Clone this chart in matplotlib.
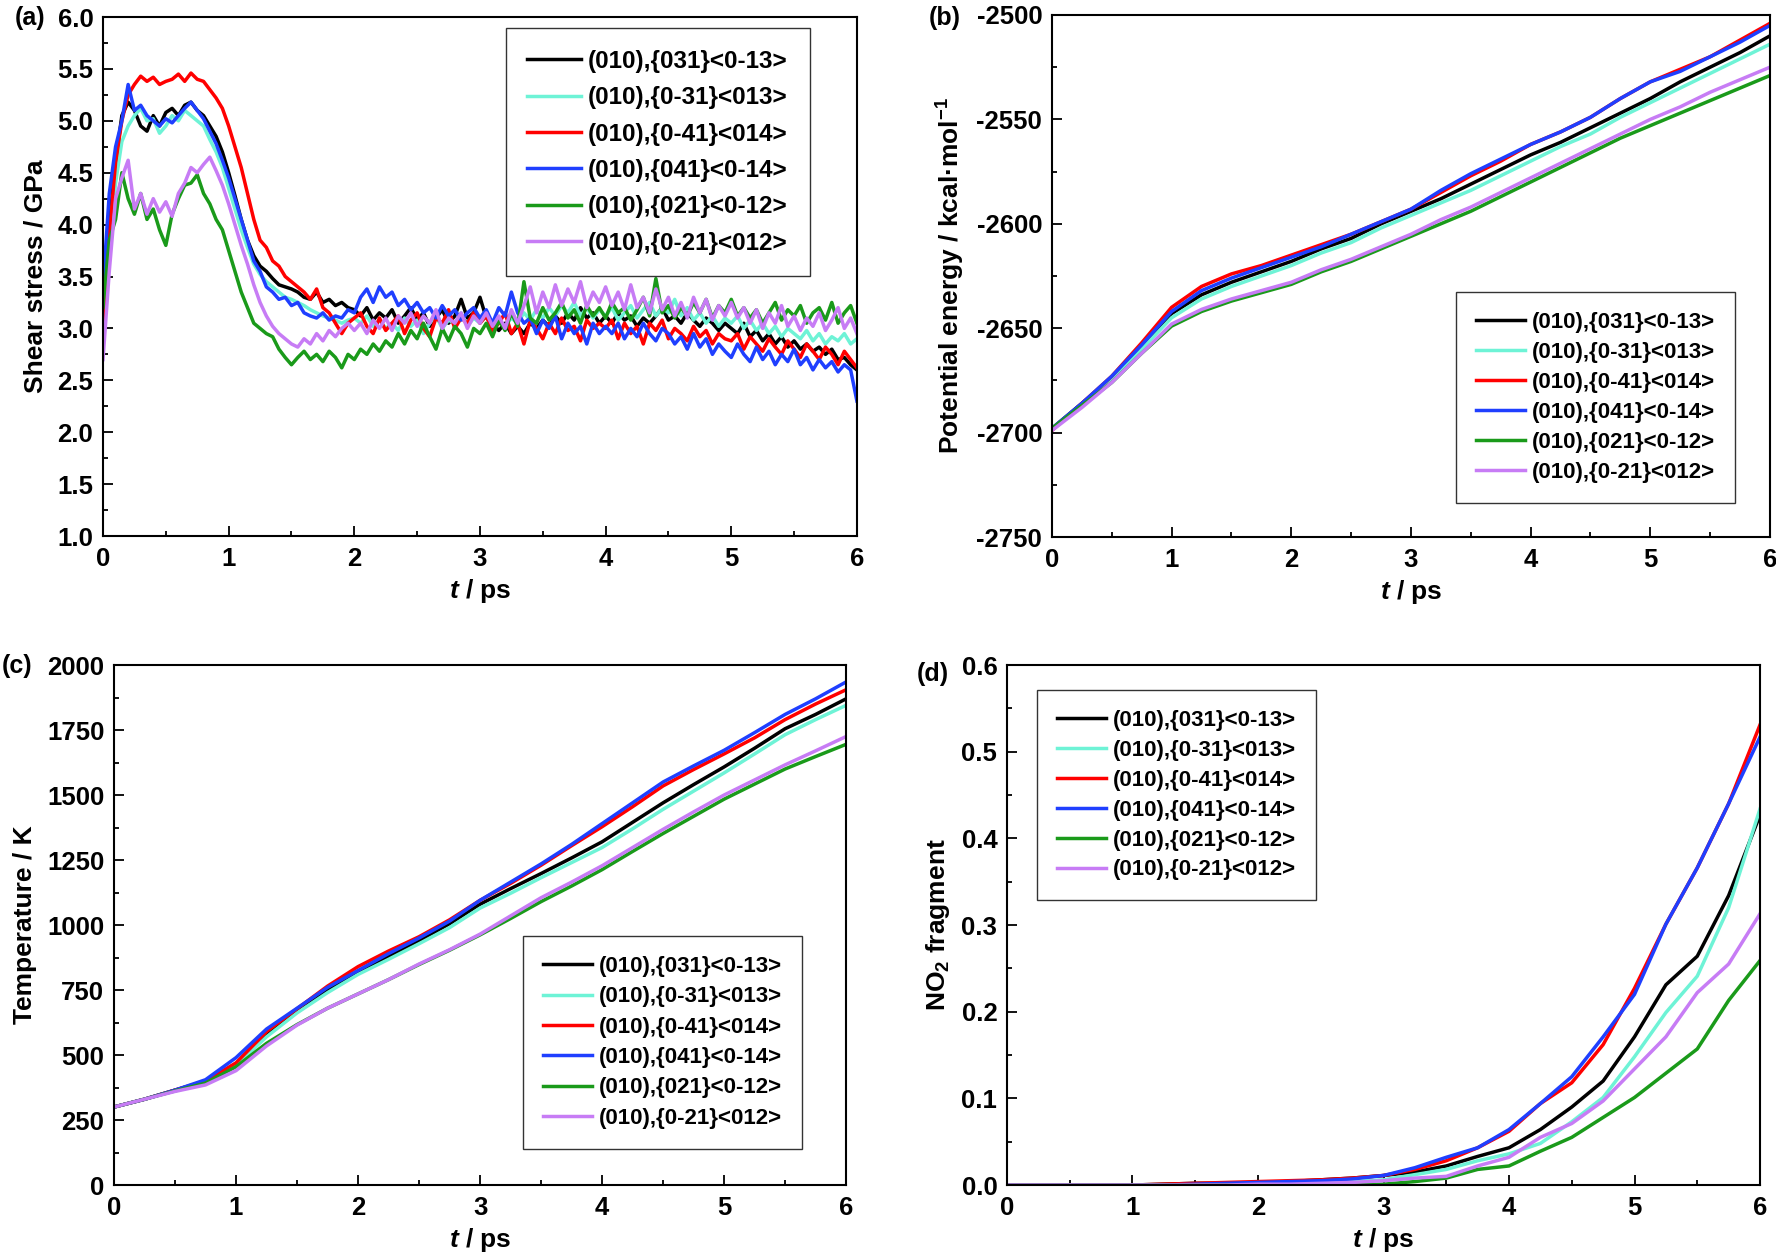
import numpy as np
import matplotlib
matplotlib.use('Agg')
import matplotlib.pyplot as plt
from matplotlib.ticker import MultipleLocator, FormatStrFormatter

plt.rcParams['font.family'] = ['Liberation Sans', 'DejaVu Sans']
plt.rcParams['font.weight'] = 'bold'
plt.rcParams['axes.labelweight'] = 'bold'
plt.rcParams['mathtext.fontset'] = 'custom'
plt.rcParams['mathtext.rm'] = 'Liberation Sans:bold'
plt.rcParams['mathtext.it'] = 'Liberation Sans:italic:bold'
plt.rcParams['mathtext.bf'] = 'Liberation Sans:bold'

# series names and colours (legend order = drawing order)
labels = ['(010),{031}<0-13>', '(010),{0-31}<013>', '(010),{0-41}<014>',
          '(010),{041}<0-14>', '(010),{021}<0-12>', '(010),{0-21}<012>']
colors = ['#000000', '#6ef3d6', '#ff0000', '#1f3fff', '#1a9a1a', '#c77cf5']

# (a) shear stress / GPa, sampled every 0.05 ps
dt_stress = 0.05
stress_031 = [3.0, 4.0, 4.6, 5.05, 5.18, 5.10, 4.95, 4.90, 5.05, 4.95, 5.08, 5.12, 5.05, 5.15, 5.18, 5.10, 5.05, 4.95, 4.85, 4.70,
              4.50, 4.28, 4.05, 3.85, 3.70, 3.60, 3.55, 3.48, 3.42, 3.40, 3.38, 3.35, 3.30, 3.28, 3.35, 3.25, 3.28, 3.22, 3.25, 3.20,
              3.18, 3.12, 3.20, 3.08, 3.15, 3.10, 3.18, 3.05, 3.12, 3.20, 3.08, 3.15, 3.02, 3.10, 3.18, 3.05, 3.12, 3.28, 3.10, 3.15,
              3.30, 3.10, 3.05, 2.98, 3.05, 2.95, 3.02, 2.95, 3.05, 3.00, 3.08, 3.02, 3.12, 3.05, 3.15, 3.08, 3.20, 3.10, 3.15, 3.05,
              3.12, 3.05, 3.15, 3.08, 3.12, 3.02, 3.10, 3.05, 3.12, 3.20, 3.08, 3.12, 3.05, 3.15, 3.08, 3.02, 3.10, 3.05, 2.98, 3.05,
              3.00, 2.95, 3.05, 2.92, 2.98, 2.88, 2.95, 2.85, 2.92, 2.82, 2.88, 2.80, 2.85, 2.78, 2.82, 2.75, 2.80, 2.70, 2.72, 2.65,
              2.60]
stress_0m31 = [2.9, 3.8, 4.4, 4.8, 4.95, 5.05, 5.12, 5.00, 5.02, 4.88, 4.95, 5.05, 5.00, 5.10, 5.05, 5.00, 4.95, 4.82, 4.70, 4.55,
               4.35, 4.15, 3.95, 3.78, 3.62, 3.52, 3.45, 3.40, 3.35, 3.30, 3.28, 3.25, 3.22, 3.18, 3.15, 3.12, 3.10, 3.08, 3.05, 3.08,
               3.10, 3.05, 3.12, 3.02, 3.08, 3.00, 3.05, 2.98, 3.10, 3.02, 3.08, 2.95, 3.05, 3.12, 3.00, 3.08, 3.05, 3.15, 3.02, 3.10,
               3.05, 3.12, 3.00, 3.08, 3.02, 3.10, 3.05, 3.15, 3.08, 3.18, 3.10, 3.20, 3.12, 3.22, 3.15, 3.25, 3.12, 3.20, 3.10, 3.18,
               3.12, 3.20, 3.08, 3.15, 3.22, 3.10, 3.18, 3.25, 3.12, 3.20, 3.15, 3.28, 3.12, 3.20, 3.08, 3.15, 3.05, 3.12, 3.02, 3.10,
               3.05, 3.12, 3.00, 3.08, 2.98, 3.05, 2.95, 3.02, 2.92, 3.00, 2.95, 2.90, 2.98, 2.88, 2.95, 2.85, 2.92, 2.88, 2.95, 2.85,
               2.90]
stress_0m41 = [2.9, 3.9, 4.6, 5.0, 5.25, 5.35, 5.43, 5.38, 5.42, 5.35, 5.38, 5.40, 5.45, 5.38, 5.46, 5.40, 5.38, 5.30, 5.22, 5.12,
               4.95, 4.75, 4.55, 4.30, 4.05, 3.85, 3.78, 3.65, 3.60, 3.50, 3.45, 3.40, 3.35, 3.28, 3.38, 3.20, 3.15, 3.05, 2.95, 3.05,
               3.10, 3.15, 3.02, 2.95, 3.10, 2.98, 3.05, 3.12, 2.95, 3.08, 3.15, 3.00, 2.92, 3.10, 3.05, 3.18, 3.00, 3.10, 3.05, 3.15,
               3.05, 3.12, 2.98, 3.05, 3.15, 2.95, 3.05, 2.85, 3.08, 3.00, 2.90, 3.05, 2.95, 3.10, 2.98, 3.02, 2.88, 3.08, 3.00, 3.05,
               3.00, 3.08, 2.90, 3.05, 2.95, 3.02, 2.85, 3.05, 2.98, 3.08, 2.90, 3.00, 2.95, 2.88, 3.02, 2.92, 2.98, 2.85, 2.95, 2.90,
               2.88, 2.95, 2.80, 2.92, 2.85, 2.78, 2.90, 2.82, 2.75, 2.88, 2.80, 2.72, 2.85, 2.78, 2.70, 2.82, 2.75, 2.65, 2.78, 2.70,
               2.62]
stress_041 = [3.4, 4.3, 4.75, 5.0, 5.35, 5.10, 5.15, 5.05, 5.00, 4.95, 5.02, 4.98, 5.05, 5.12, 5.18, 5.10, 5.02, 4.90, 4.78, 4.62,
              4.45, 4.25, 4.05, 3.85, 3.65, 3.55, 3.40, 3.35, 3.28, 3.30, 3.22, 3.25, 3.15, 3.12, 3.10, 3.15, 3.08, 3.12, 3.10, 3.18,
              3.15, 3.30, 3.38, 3.25, 3.40, 3.30, 3.35, 3.22, 3.28, 3.18, 3.25, 3.15, 3.20, 3.10, 3.22, 3.12, 3.18, 3.08, 3.15, 3.20,
              3.10, 3.18, 3.05, 3.20, 3.12, 3.35, 3.15, 3.05, 3.10, 2.95, 3.08, 3.00, 3.12, 2.90, 3.05, 2.95, 3.02, 2.85, 3.05, 2.95,
              3.02, 2.95, 3.05, 2.90, 3.00, 2.92, 3.05, 2.95, 2.88, 3.00, 2.95, 2.85, 2.92, 2.80, 2.95, 2.82, 2.90, 2.75, 2.85, 2.78,
              2.72, 2.85, 2.75, 2.68, 2.82, 2.70, 2.78, 2.65, 2.75, 2.68, 2.80, 2.65, 2.72, 2.60, 2.70, 2.62, 2.68, 2.58, 2.65, 2.60,
              2.30]
stress_021 = [3.2, 3.85, 4.05, 4.50, 4.25, 4.10, 4.30, 4.05, 4.15, 3.95, 3.80, 4.10, 4.25, 4.38, 4.40, 4.48, 4.30, 4.20, 4.05, 3.95,
              3.75, 3.55, 3.35, 3.20, 3.05, 3.00, 2.95, 2.92, 2.80, 2.72, 2.65, 2.72, 2.78, 2.70, 2.75, 2.68, 2.78, 2.72, 2.62, 2.75,
              2.70, 2.80, 2.75, 2.85, 2.78, 2.88, 2.82, 2.95, 2.85, 2.98, 2.90, 3.05, 2.92, 2.80, 3.00, 2.88, 3.02, 2.95, 2.82, 3.00,
              2.95, 3.05, 2.92, 3.08, 2.98, 3.15, 3.02, 3.45, 3.10, 3.05, 3.20, 3.08, 3.15, 3.25, 3.10, 3.18, 3.05, 3.22, 3.12, 3.20,
              3.10, 3.25, 3.15, 3.20, 3.08, 3.18, 3.30, 3.12, 3.48, 3.15, 3.22, 3.10, 3.20, 3.12, 3.25, 3.15, 3.28, 3.10, 3.22, 3.15,
              3.28, 3.12, 3.20, 3.10, 3.18, 3.05, 3.15, 3.25, 3.08, 3.18, 3.12, 3.22, 3.05, 3.15, 3.20, 3.08, 3.25, 3.05, 3.15, 3.22,
              3.05]
stress_0m21 = [2.7, 3.55, 4.25, 4.45, 4.62, 4.15, 4.30, 4.10, 4.25, 4.12, 4.22, 4.08, 4.30, 4.40, 4.55, 4.50, 4.58, 4.65, 4.52, 4.38,
               4.20, 4.00, 3.80, 3.62, 3.42, 3.25, 3.12, 3.02, 2.95, 2.90, 2.85, 2.82, 2.90, 2.85, 2.95, 2.88, 2.98, 2.92, 3.00, 3.05,
               2.98, 3.05, 2.95, 3.08, 3.00, 3.10, 2.98, 3.12, 3.05, 3.15, 3.02, 3.12, 3.05, 3.18, 3.00, 3.10, 3.05, 3.15, 3.00, 3.12,
               3.05, 3.15, 3.02, 3.12, 3.00, 3.18, 3.05, 3.22, 3.40, 3.15, 3.35, 3.20, 3.42, 3.22, 3.38, 3.25, 3.45, 3.20, 3.35, 3.25,
               3.40, 3.22, 3.35, 3.18, 3.42, 3.20, 3.30, 3.15, 3.38, 3.18, 3.30, 3.12, 3.25, 3.10, 3.30, 3.15, 3.28, 3.08, 3.22, 3.12,
               3.25, 3.10, 3.20, 3.05, 3.18, 3.00, 3.15, 3.05, 3.22, 3.02, 3.12, 2.98, 3.10, 3.02, 3.15, 2.98, 3.08, 3.20, 3.00, 3.10,
               2.95]

# (b), (c), (d) sampled every 0.25 ps
time_q = [0.0, 0.25, 0.5, 0.75, 1.0, 1.25, 1.5, 1.75, 2.0, 2.25, 2.5, 2.75, 3.0,
          3.25, 3.5, 3.75, 4.0, 4.25, 4.5, 4.75, 5.0, 5.25, 5.5, 5.75, 6.0]

# (b) potential energy / kcal mol-1
pe_031 = [-2698, -2686, -2674, -2659, -2643, -2634, -2628, -2623, -2618, -2612, -2607, -2600, -2594,
          -2588, -2581, -2574, -2567, -2561, -2554, -2547, -2540, -2532, -2525, -2518, -2510]
pe_0m31 = [-2698, -2687, -2675, -2660, -2645, -2636, -2630, -2625, -2620, -2614, -2609, -2602, -2596,
           -2590, -2584, -2577, -2570, -2563, -2557, -2549, -2542, -2535, -2528, -2521, -2514]
pe_0m41 = [-2699, -2686, -2673, -2657, -2640, -2630, -2624, -2620, -2615, -2610, -2605, -2599, -2593,
           -2585, -2577, -2570, -2562, -2556, -2549, -2540, -2532, -2526, -2520, -2512, -2504]
pe_041 = [-2698, -2686, -2673, -2658, -2642, -2632, -2626, -2621, -2616, -2611, -2605, -2599, -2593,
          -2584, -2576, -2569, -2562, -2556, -2549, -2540, -2532, -2527, -2520, -2513, -2505]
pe_021 = [-2698, -2687, -2676, -2662, -2649, -2642, -2637, -2633, -2629, -2623, -2618, -2612, -2606,
          -2600, -2594, -2587, -2580, -2573, -2566, -2559, -2553, -2547, -2541, -2535, -2529]
pe_0m21 = [-2699, -2688, -2676, -2662, -2648, -2641, -2636, -2632, -2628, -2622, -2617, -2611, -2605,
           -2598, -2592, -2585, -2578, -2571, -2564, -2557, -2550, -2544, -2537, -2531, -2525]

# (c) temperature / K
temp_031 = [300, 330, 365, 400, 465, 580, 670, 750, 820, 880, 940, 1005, 1080,
            1140, 1198, 1258, 1320, 1395, 1470, 1540, 1608, 1680, 1755, 1810, 1870]
temp_0m31 = [300, 330, 363, 398, 460, 570, 662, 740, 810, 868, 928, 990, 1065,
             1122, 1182, 1240, 1298, 1370, 1445, 1515, 1585, 1658, 1732, 1790, 1845]
temp_0m41 = [300, 330, 365, 400, 470, 590, 678, 765, 840, 900, 955, 1020, 1095,
             1160, 1230, 1305, 1378, 1455, 1535, 1598, 1658, 1720, 1790, 1850, 1905]
temp_041 = [300, 330, 365, 405, 490, 600, 680, 760, 825, 890, 950, 1015, 1095,
            1165, 1235, 1310, 1390, 1470, 1550, 1612, 1672, 1740, 1810, 1870, 1935]
temp_021 = [300, 330, 362, 392, 455, 545, 617, 680, 735, 790, 848, 903, 962,
            1025, 1090, 1150, 1213, 1283, 1352, 1418, 1484, 1542, 1600, 1648, 1695]
temp_0m21 = [300, 330, 360, 385, 440, 535, 615, 680, 735, 790, 850, 905, 965,
             1035, 1105, 1165, 1228, 1298, 1368, 1435, 1500, 1558, 1616, 1670, 1725]

# (d) NO2 fragment
no2_031 = [0, 0, 0, 0, 0, 0.001, 0.002, 0.002, 0.003, 0.004, 0.006, 0.008, 0.011,
           0.015, 0.022, 0.033, 0.043, 0.064, 0.090, 0.120, 0.171, 0.231, 0.264, 0.334, 0.427]
no2_0m31 = [0, 0, 0, 0, 0, 0, 0.001, 0.001, 0.002, 0.002, 0.003, 0.004, 0.006,
            0.012, 0.018, 0.028, 0.036, 0.048, 0.073, 0.101, 0.148, 0.199, 0.241, 0.320, 0.434]
no2_0m41 = [0, 0, 0, 0, 0, 0.001, 0.002, 0.003, 0.004, 0.005, 0.006, 0.008, 0.011,
            0.018, 0.028, 0.043, 0.062, 0.094, 0.118, 0.162, 0.227, 0.301, 0.366, 0.440, 0.531]
no2_041 = [0, 0, 0, 0, 0, 0, 0.001, 0.002, 0.003, 0.004, 0.005, 0.007, 0.011,
           0.020, 0.032, 0.043, 0.064, 0.094, 0.125, 0.171, 0.220, 0.301, 0.366, 0.440, 0.517]
no2_021 = [0, 0, 0, 0, 0, 0, 0, 0, 0, 0, 0, 0, 0.001,
           0.004, 0.008, 0.018, 0.022, 0.039, 0.055, 0.078, 0.101, 0.129, 0.157, 0.213, 0.259]
no2_0m21 = [0, 0, 0, 0, 0, 0, 0, 0, 0.001, 0.001, 0.002, 0.003, 0.005,
            0.008, 0.010, 0.022, 0.032, 0.055, 0.071, 0.097, 0.134, 0.171, 0.222, 0.255, 0.313]


def style(ax, ylim, major, minor, fmt, ylabel):
    ax.set_xlim(0, 6)
    ax.set_ylim(*ylim)
    ax.xaxis.set_major_locator(MultipleLocator(1))
    ax.xaxis.set_minor_locator(MultipleLocator(0.5))
    ax.yaxis.set_major_locator(MultipleLocator(major))
    ax.yaxis.set_minor_locator(MultipleLocator(minor))
    ax.yaxis.set_major_formatter(FormatStrFormatter(fmt))
    ax.tick_params(which='both', direction='in', top=False, right=False, width=1.3, labelsize=18.5)
    ax.tick_params(which='major', length=7)
    ax.tick_params(which='minor', length=3.5)
    ax.tick_params(axis='x', pad=8)
    ax.tick_params(axis='y', pad=7)
    for s in ax.spines.values():
        s.set_linewidth(1.5)
    ax.set_xlabel('$t$ / ps', fontsize=19, fontweight='bold', labelpad=4)
    ax.set_ylabel(ylabel, fontsize=19, fontweight='bold', labelpad=7)


def legend(ax, x0, ytop, size, spacing):
    leg = ax.legend(loc='upper left', bbox_to_anchor=(x0, ytop), borderaxespad=0,
                    fancybox=False, edgecolor='#333333', framealpha=1,
                    prop={'weight': 'bold', 'size': size}, handlelength=2.2,
                    handletextpad=0.3, labelspacing=spacing, borderpad=0.9)
    leg.get_frame().set_linewidth(1.0)


fig = plt.figure(figsize=(17.76, 12.6), dpi=100)
ax_a = fig.add_axes([0.0580, 0.5746, 0.4245, 0.4119])
ax_b = fig.add_axes([0.5923, 0.5738, 0.4043, 0.4143])
ax_c = fig.add_axes([0.0642, 0.0595, 0.4122, 0.4127])
ax_d = fig.add_axes([0.5670, 0.0595, 0.4240, 0.4127])

stress = [stress_031, stress_0m31, stress_0m41, stress_041, stress_021, stress_0m21]
for vals, c, lab in zip(stress, colors, labels):
    t = np.arange(len(vals)) * dt_stress
    ax_a.plot(t, vals, color=c, lw=2.5, label=lab)

for ax, group in [(ax_b, [pe_031, pe_0m31, pe_0m41, pe_041, pe_021, pe_0m21]),
                  (ax_c, [temp_031, temp_0m31, temp_0m41, temp_041, temp_021, temp_0m21]),
                  (ax_d, [no2_031, no2_0m31, no2_0m41, no2_041, no2_021, no2_0m21])]:
    for vals, c, lab in zip(group, colors, labels):
        ax.plot(time_q, vals, color=c, lw=2.5, label=lab)

style(ax_a, (1.0, 6.0), 0.5, 0.25, '%.1f', 'Shear stress / GPa')
style(ax_b, (-2750, -2500), 50, 25, '%d', 'Potential energy / kcal·mol$^{\\mathrm{-1}}$')
style(ax_c, (0, 2000), 250, 125, '%d', 'Temperature / K')
style(ax_d, (0, 0.6), 0.1, 0.05, '%.1f', 'NO$_{\\mathrm{2}}$ fragment')

legend(ax_a, 0.534, 0.979, 17.5, 0.55)
legend(ax_b, 0.563, 0.469, 16, 0.40)
legend(ax_c, 0.559, 0.479, 16, 0.42)
legend(ax_d, 0.040, 0.952, 16, 0.40)

for txt, x, y in [('(a)', 15, 6), ('(b)', 929, 6), ('(c)', 2, 654), ('(d)', 917, 662)]:
    fig.text(x / 1776, 1 - y / 1260, txt, fontsize=18, fontweight='bold', va='top', ha='left')

# tick labels in bold, set once the ticks exist
fig.canvas.draw()
for ax in [ax_a, ax_b, ax_c, ax_d]:
    for lab in ax.get_xticklabels() + ax.get_yticklabels():
        lab.set_fontweight('bold')

fig.savefig('out.png', dpi=100)
